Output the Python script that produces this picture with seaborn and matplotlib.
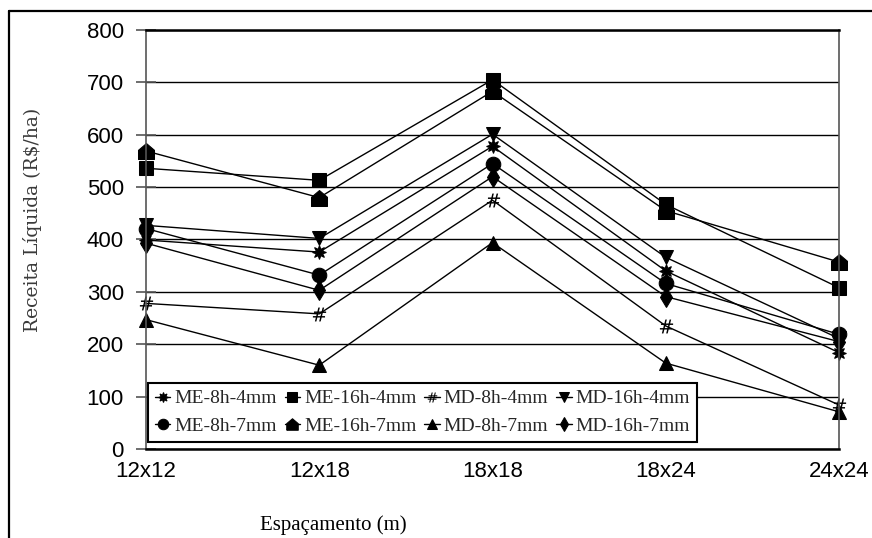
import matplotlib
matplotlib.use("Agg")
import matplotlib.pyplot as plt
import seaborn as sns
import pandas as pd
from matplotlib.lines import Line2D
from matplotlib.font_manager import FontProperties

# ---- data ----
categories = ["12x12", "12x18", "18x18", "18x24", "24x24"]
me_8h_4mm  = [399, 376, 578, 340, 184]
me_16h_4mm = [536, 513, 705, 467, 308]
md_8h_4mm  = [278, 258, 475, 235, 84]
md_16h_4mm = [427, 402, 601, 366, 211]
me_8h_7mm  = [421, 332, 545, 316, 219]
me_16h_7mm = [569, 480, 683, 455, 357]
md_8h_7mm  = [247, 160, 394, 164, 71]
md_16h_7mm = [393, 303, 520, 291, 205]
series_names = ["ME-8h-4mm", "ME-16h-4mm", "MD-8h-4mm", "MD-16h-4mm",
                "ME-8h-7mm", "ME-16h-7mm", "MD-8h-7mm", "MD-16h-7mm"]
y_ticks = [0, 100, 200, 300, 400, 500, 600, 700, 800]
y_label = "Receita Líquida (R$/ha)"
x_label = "Espaçamento (m)"

series_values = [me_8h_4mm, me_16h_4mm, md_8h_4mm, md_16h_4mm,
                 me_8h_7mm, me_16h_7mm, md_8h_7mm, md_16h_7mm]

house = [(-1, -1), (1, -1), (1, 0.15), (0, 1), (-1, 0.15), (-1, -1)]
styles = [
    dict(marker=(8, 1, 0), markersize=10),
    dict(marker="s", markersize=9.5),
    dict(marker=r"$\#$", markersize=10, markeredgewidth=0),
    dict(marker="v", markersize=9.5),
    dict(marker="o", markersize=10.5),
    dict(marker=house, markersize=11.5),
    dict(marker="^", markersize=9.5),
    dict(marker="d", markersize=10.5),
]

sns.set_theme(style="white")
plt.rcParams["font.family"] = ["Liberation Sans", "DejaVu Sans"]

fig = plt.figure(figsize=(8.72, 5.38), dpi=100)
W, H = 872, 538
ax = fig.add_axes([146 / W, 1 - 449 / H, (839 - 146) / W, (449 - 30) / H])

for name, vals, st in zip(series_names, series_values, styles):
    df = pd.DataFrame({"cat": categories, "val": vals})
    sns.lineplot(data=df, x="cat", y="val", ax=ax, color="black", linewidth=1.0,
                 markerfacecolor="black", markeredgecolor="black",
                 label=name, sort=False, clip_on=False, **st)

ax.set_xlim(0, len(categories) - 1)
ax.set_ylim(0, 800)
ax.set_yticks(y_ticks)
ax.yaxis.grid(True, color="black", linewidth=1.0)
ax.xaxis.grid(False)
ax.set_axisbelow(True)

for s in ["top", "bottom"]:
    ax.spines[s].set_color("black")
    ax.spines[s].set_linewidth(1.8)
for s in ["left", "right"]:
    ax.spines[s].set_color("#555555")
    ax.spines[s].set_linewidth(1.2)

ax.tick_params(axis="y", direction="inout", length=14, width=1.2, color="#555555",
               pad=9, labelsize=16, labelcolor="black", left=True)
ax.tick_params(axis="x", length=0, pad=8.5, labelsize=16, labelcolor="black")

ax.set_xlabel("")
ax.set_ylabel("")
fig.text(333 / W, 1 - 525 / H, x_label, ha="center", va="center",
         fontsize=15, family="Liberation Serif", color="black")
fig.text(32 / W, 1 - 220 / H, y_label, ha="center", va="center", rotation=90,
         fontsize=13.5, family="DejaVu Serif", color="#3a3a3a")

handles, labels = ax.get_legend_handles_labels()
order = [0, 4, 1, 5, 2, 6, 3, 7]
leg = ax.legend([handles[i] for i in order], [labels[i] for i in order], ncol=4,
                loc="upper left", bbox_to_anchor=(148 / W, 1 - 383 / H),
                bbox_transform=fig.transFigure, borderaxespad=0, frameon=True,
                fancybox=False, edgecolor="black", facecolor="white", framealpha=1,
                prop=FontProperties(family="Liberation Serif", size=14),
                handlelength=0.8, handletextpad=0.2, columnspacing=0.4,
                borderpad=0.35, labelspacing=0.5, markerscale=0.72)
leg.get_frame().set_linewidth(1.5)

# outer frame
fig.add_artist(Line2D([8.5 / W, 1], [1 - 10.5 / H, 1 - 10.5 / H], color="black",
                      linewidth=1.6, transform=fig.transFigure))
fig.add_artist(Line2D([8.5 / W, 8.5 / W], [0, 1 - 10.5 / H], color="black",
                      linewidth=1.6, transform=fig.transFigure))

fig.savefig("out.png", dpi=100)
